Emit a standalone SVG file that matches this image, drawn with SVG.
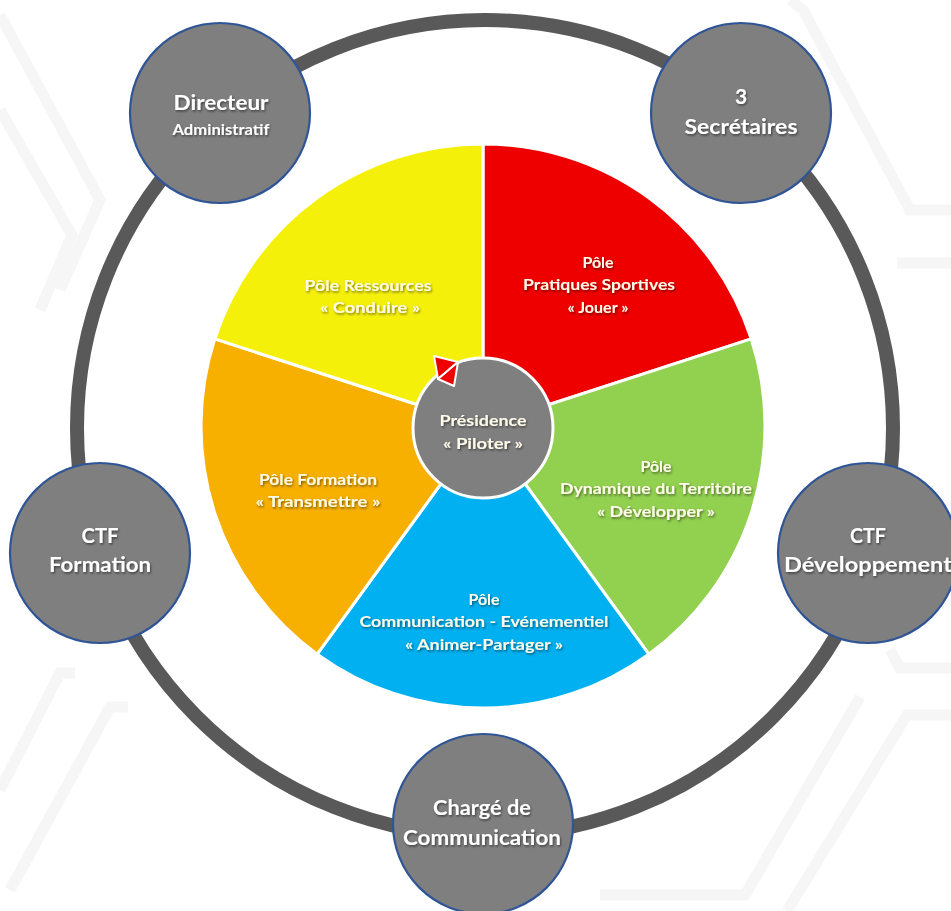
<svg xmlns="http://www.w3.org/2000/svg" width="951" height="911" viewBox="0 0 951 911">
<defs>
<style>
.bg{fill:none;stroke:#f6f6f6;stroke-width:11;stroke-linejoin:miter}
.ring{fill:none;stroke:#595959;stroke-width:14}
.node{fill:#7f7f7f;stroke:#2f5597;stroke-width:2.2}
.seg{stroke:#ffffff;stroke-width:3;stroke-linejoin:round}
.t{font-family:Lato,"Open Sans","Liberation Sans",sans-serif;font-weight:bold;text-anchor:middle;fill:#ffffff}
.big{font-size:21px}
.small{font-size:15px}
.pie{font-size:16px;fill:#fffbea}
</style>
<filter id="sh" x="-10%" y="-30%" width="120%" height="160%">
<feDropShadow dx="1" dy="1.5" stdDeviation="0.8" flood-color="#000000" flood-opacity="0.5"/>
</filter>
</defs>
<rect width="951" height="911" fill="#ffffff"/>
<g id="background">
<polyline class="bg" points="0,15 100,200 60,290"/>
<polyline class="bg" points="0,110 72,235 40,310"/>
<polyline class="bg" points="790,0 803,10 910,210 951,210"/>
<polyline class="bg" points="951,263 897,263"/>
<polyline class="bg" points="75,673 60,673 0,790"/>
<polyline class="bg" points="128,707 110,707 10,890"/>
<polyline class="bg" points="890,650 900,668 951,668"/>
<polyline class="bg" points="951,715 907,715 787,911"/>
<polyline class="bg" points="860,697 745,895 600,895"/>
</g>
<g id="connectors">
<circle class="ring" cx="485" cy="428" r="408"/>
</g>
<g id="pole-pratiques">
<path class="seg" fill="#ee0000" d="M483,426 L483,144 A282,282 0 0 1 751.2,338.9 Z"/>
<g class="t pie" filter="url(#sh)">
<text x="598" y="268">Pôle</text>
<text x="599" y="290" textLength="152" lengthAdjust="spacingAndGlyphs">Pratiques Sportives</text>
<text x="598" y="313">« Jouer »</text>
</g>
</g>
<g id="pole-dynamique">
<path class="seg" fill="#92d050" d="M483,426 L751.2,338.9 A282,282 0 0 1 648.8,654.1 Z"/>
<g class="t pie" filter="url(#sh)">
<text x="656" y="472">Pôle</text>
<text x="656" y="494" textLength="192" lengthAdjust="spacingAndGlyphs">Dynamique du Territoire</text>
<text x="656" y="517" textLength="118" lengthAdjust="spacingAndGlyphs">« Développer »</text>
</g>
</g>
<g id="pole-communication">
<path class="seg" fill="#00b0f0" d="M483,426 L648.8,654.1 A282,282 0 0 1 317.2,654.1 Z"/>
<g class="t pie" filter="url(#sh)">
<text x="484" y="605">Pôle</text>
<text x="484" y="627" textLength="249" lengthAdjust="spacingAndGlyphs">Communication - Evénementiel</text>
<text x="484" y="650" textLength="158" lengthAdjust="spacingAndGlyphs">« Animer-Partager »</text>
</g>
</g>
<g id="pole-formation">
<path class="seg" fill="#f7b000" d="M483,426 L317.2,654.1 A282,282 0 0 1 214.8,338.9 Z"/>
<g class="t pie" filter="url(#sh)">
<text x="318" y="485" textLength="118" lengthAdjust="spacingAndGlyphs">Pôle Formation</text>
<text x="318" y="507" textLength="125" lengthAdjust="spacingAndGlyphs">« Transmettre »</text>
</g>
</g>
<g id="pole-ressources">
<path class="seg" fill="#f5f00a" d="M483,426 L214.8,338.9 A282,282 0 0 1 483,144 Z"/>
<g class="t pie" filter="url(#sh)">
<text x="368" y="291" textLength="127" lengthAdjust="spacingAndGlyphs">Pôle Ressources</text>
<text x="370" y="313" textLength="100" lengthAdjust="spacingAndGlyphs">« Conduire »</text>
</g>
</g>
<g id="presidence">
<circle cx="483" cy="428" r="70" fill="#7f7f7f" stroke="#ffffff" stroke-width="3"/>
<polygon points="434,356 458,362 438,379" fill="#ee0000" stroke="#ffffff" stroke-width="2" stroke-linejoin="round"/>
<polygon points="458,362 454,386 438,379" fill="#ee0000" stroke="#ffffff" stroke-width="2" stroke-linejoin="round"/>
<g class="t pie" filter="url(#sh)">
<text x="483" y="426" textLength="87" lengthAdjust="spacingAndGlyphs">Présidence</text>
<text x="483" y="449" textLength="80" lengthAdjust="spacingAndGlyphs">« Piloter »</text>
</g>
</g>
<g id="directeur">
<circle class="node" cx="220" cy="113" r="90"/>
<g class="t" filter="url(#sh)">
<text class="big" x="221" y="110" textLength="95" lengthAdjust="spacingAndGlyphs">Directeur</text>
<text class="small" x="221" y="135" textLength="97" lengthAdjust="spacingAndGlyphs">Administratif</text>
</g>
</g>
<g id="secretaires">
<circle class="node" cx="741" cy="113" r="90"/>
<g class="t big" filter="url(#sh)">
<text x="741" y="104">3</text>
<text x="741" y="134" textLength="113" lengthAdjust="spacingAndGlyphs">Secrétaires</text>
</g>
</g>
<g id="ctf-formation">
<circle class="node" cx="100" cy="553" r="90"/>
<g class="t big" filter="url(#sh)">
<text x="100" y="543" textLength="37" lengthAdjust="spacingAndGlyphs">CTF</text>
<text x="100" y="572" textLength="102" lengthAdjust="spacingAndGlyphs">Formation</text>
</g>
</g>
<g id="ctf-developpement">
<circle class="node" cx="868" cy="553" r="90"/>
<g class="t big" filter="url(#sh)">
<text x="868" y="543" textLength="36" lengthAdjust="spacingAndGlyphs">CTF</text>
<text x="868" y="572" textLength="168" lengthAdjust="spacingAndGlyphs">Développement</text>
</g>
</g>
<g id="charge-communication">
<circle class="node" cx="483" cy="824" r="90"/>
<g class="t big" filter="url(#sh)">
<text x="482" y="815" textLength="98" lengthAdjust="spacingAndGlyphs">Chargé de</text>
<text x="482" y="845" textLength="158" lengthAdjust="spacingAndGlyphs">Communication</text>
</g>
</g>
</svg>
